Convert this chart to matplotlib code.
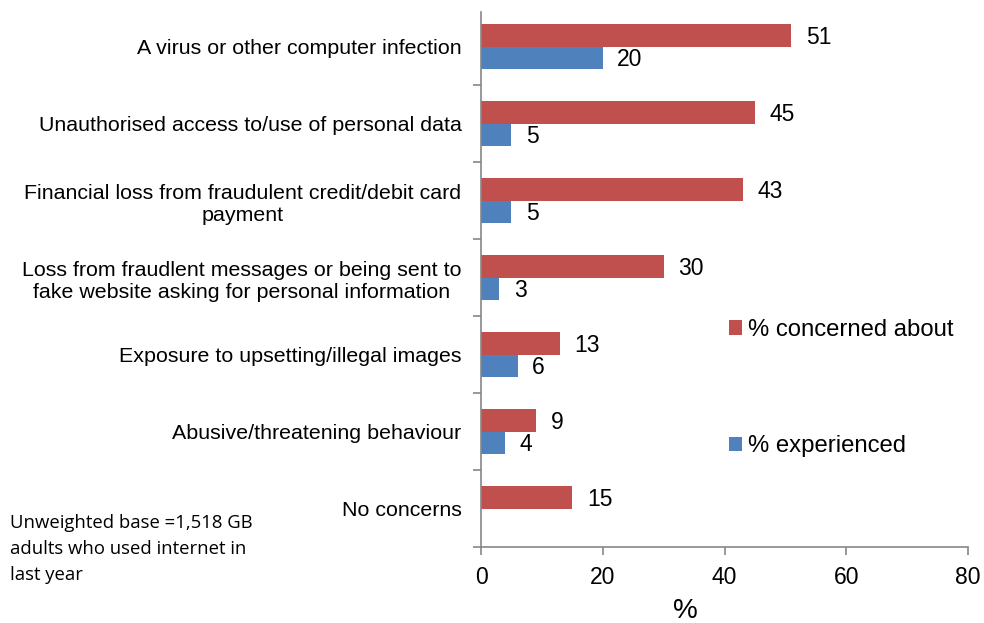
import matplotlib
matplotlib.use("Agg")
import matplotlib.pyplot as plt
import numpy as np

categories = [
    "A virus or other computer infection",
    "Unauthorised access to/use of personal data",
    "Financial loss from fraudulent credit/debit card\npayment",
    "Loss from fraudlent messages or being sent to\nfake website asking for personal information",
    "Exposure to upsetting/illegal images",
    "Abusive/threatening behaviour",
    "No concerns",
]
concerned = [51, 45, 43, 30, 13, 9, 15]
experienced = [20, 5, 5, 3, 6, 4, None]
x_ticks = [0, 20, 40, 60, 80]

RED = "#C0504D"
BLUE = "#4F81BD"
GRAY = "#868686"

plt.rcParams["font.family"] = ["Liberation Sans", "DejaVu Sans"]

fig = plt.figure(figsize=(9.84, 6.23), dpi=100)
ax = fig.add_axes([481 / 984, 1 - 547 / 623, (968 - 481) / 984, (547 - 8) / 623])

n = len(categories)
y = np.arange(n)
h = 0.286
lab_dy = 0.025

exp_vals = [v if v is not None else 0 for v in experienced]
b1 = ax.barh(y - h / 2, concerned, height=h, color=RED, label="% concerned about")
b2 = ax.barh(y + h / 2, exp_vals, height=h, color=BLUE, label="% experienced")

for yi, v in zip(y, concerned):
    ax.text(v + 2.4, yi - h / 2 + lab_dy, str(v), va="center", ha="left", fontsize=16.5)
for yi, v in zip(y, experienced):
    if v is not None:
        ax.text(v + 2.4, yi + h / 2 + lab_dy, str(v), va="center", ha="left", fontsize=16.5)

ax.set_ylim(n - 0.5, -0.5)
ax.set_xlim(0, 80)
ax.set_xticks(x_ticks)
ax.set_xticklabels([str(t) for t in x_ticks], fontsize=16.5)
ax.set_yticks(y)
ax.set_yticklabels(categories, fontsize=15.4, multialignment="center")
ax.set_yticks(np.arange(0.5, n, 1), minor=True)
ax.tick_params(axis="y", which="major", length=0, pad=14)
ax.tick_params(axis="y", which="minor", length=6, color=GRAY, width=1.2)
ax.tick_params(axis="x", which="major", length=6, color=GRAY, width=1.2, pad=8)
ax.set_xlabel("%", fontsize=20, labelpad=6, x=0.419)

for s in ["top", "right"]:
    ax.spines[s].set_visible(False)
for s in ["left", "bottom"]:
    ax.spines[s].set_color(GRAY)
    ax.spines[s].set_linewidth(1.2)
ax.spines["left"].set_bounds(n - 0.5, -0.45)

leg = ax.legend(handles=[b1, b2], loc="upper left", bbox_to_anchor=(729 / 984, 1 - 319 / 623),
                bbox_transform=fig.transFigure, frameon=False, fontsize=17.2,
                handlelength=0.55, handleheight=0.55, handletextpad=0.25, labelspacing=3.95,
                borderpad=0, borderaxespad=0)

fig.text(10 / 984, 1 - 549 / 623,
         "Unweighted base =1,518 GB\nadults who used internet in\nlast year",
         fontsize=13.3, family=["Open Sans", "DejaVu Sans"], va="center", ha="left",
         linespacing=1.6)

fig.savefig("out.png", dpi=100)
